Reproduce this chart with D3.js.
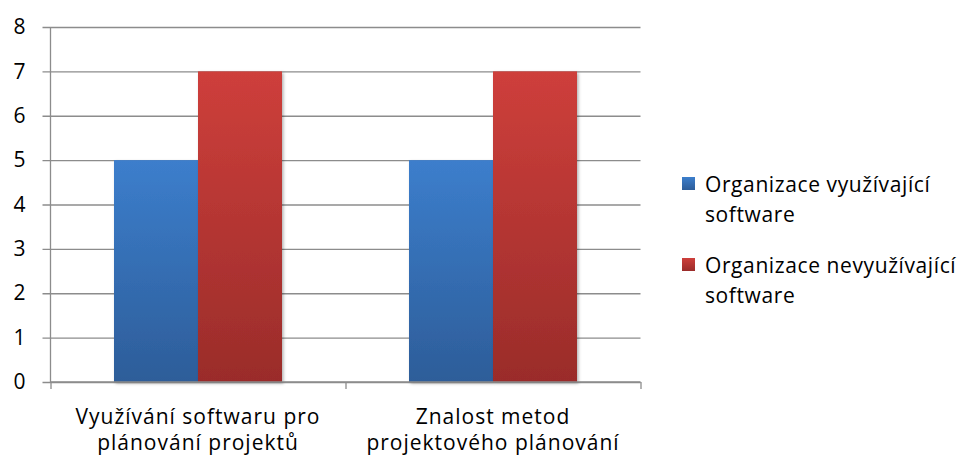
<!DOCTYPE html>
<html>
<head>
<meta charset="utf-8">
<script src="https://cdn.jsdelivr.net/npm/d3@7"></script>
<style>
  html, body { margin: 0; padding: 0; background: #fff; }
  svg { display: block; font-family: "Open Sans", "Noto Sans", sans-serif; }
</style>
</head>
<body>
<svg id="chart" width="968" height="461"></svg>
<script>
// Categories (each label split over two lines)
const categories = [
  ["Využívání softwaru pro", "plánování projektů"],
  ["Znalost metod", "projektového plánování"]
];
const seriesNames = [
  ["Organizace využívající", "software"],
  ["Organizace nevyužívající", "software"]
];
const usingSoftware = [5, 5];
const notUsingSoftware = [7, 7];
const yTicks = [0, 1, 2, 3, 4, 5, 6, 7, 8];

const seriesValues = [usingSoftware, notUsingSoftware];
const gradients = [
  { id: "gBlue", top: "#3C7ECC", bottom: "#2D5D99" },
  { id: "gRed", top: "#CE3F3B", bottom: "#9A2C2A" }
];

const svg = d3.select("#chart");
const plot = { left: 50.5, right: 640.5, top: 27, bottom: 382 };
const axisColor = "#8c8c8c";

const x = d3.scaleBand()
  .domain(d3.range(categories.length))
  .range([plot.left, plot.right])
  .paddingInner(0)
  .paddingOuter(0);

const xInner = d3.scaleBand()
  .domain(d3.range(seriesValues.length))
  .range([0, x.bandwidth()])
  .paddingInner(0)
  .paddingOuter(0.756);

const y = d3.scaleLinear().domain([0, 8]).range([plot.bottom, plot.top]);

const defs = svg.append("defs");
gradients.forEach(g => {
  const lg = defs.append("linearGradient")
    .attr("id", g.id).attr("x1", 0).attr("y1", 0).attr("x2", 0).attr("y2", 1);
  lg.append("stop").attr("offset", "0%").attr("stop-color", g.top);
  lg.append("stop").attr("offset", "100%").attr("stop-color", g.bottom);
});
const shadow = defs.append("filter").attr("id", "shadow")
  .attr("x", "-10%").attr("y", "-10%").attr("width", "130%").attr("height", "130%");
shadow.append("feDropShadow")
  .attr("dx", 1.5).attr("dy", 1.5).attr("stdDeviation", 1.5)
  .attr("flood-color", "#000").attr("flood-opacity", 0.3);

// Horizontal gridlines with outward tick marks
const yAxis = d3.axisLeft(y)
  .tickValues(yTicks)
  .tickSize(-(plot.right - plot.left))
  .tickFormat(d3.format("d"))
  .tickPadding(25);

const gy = svg.append("g")
  .attr("transform", `translate(${plot.left},0)`)
  .call(yAxis);
gy.select(".domain").remove();
gy.selectAll(".tick line")
  .attr("x1", -8)
  .attr("stroke", axisColor)
  .attr("stroke-width", 1.3);
gy.selectAll(".tick text")
  .attr("font-size", 21)
  .attr("fill", "#000")
  .attr("font-family", "Open Sans, sans-serif");

// Bars
const groups = svg.append("g").selectAll("g")
  .data(seriesValues)
  .join("g")
  .attr("fill", (d, i) => `url(#${gradients[i].id})`);

groups.each(function (vals, si) {
  d3.select(this).selectAll("rect")
    .data(vals)
    .join("rect")
    .attr("x", (v, ci) => x(ci) + xInner(si))
    .attr("width", xInner.bandwidth())
    .attr("y", v => y(v))
    .attr("height", v => y(0) - y(v))
    .attr("filter", "url(#shadow)");
});

// Left vertical axis line
svg.append("line")
  .attr("x1", plot.left).attr("x2", plot.left)
  .attr("y1", plot.top).attr("y2", plot.bottom)
  .attr("stroke", axisColor).attr("stroke-width", 1.3);

// Category axis
const xAxisScale = d3.scaleLinear()
  .domain([0, categories.length])
  .range([plot.left, plot.right]);
const gx = svg.append("g")
  .attr("transform", `translate(0,${plot.bottom})`)
  .call(d3.axisBottom(xAxisScale).tickValues(d3.range(categories.length + 1)).tickSize(7).tickFormat(""));
gx.select(".domain")
  .attr("d", `M${plot.left},0H${plot.right}`)
  .attr("stroke", axisColor).attr("stroke-width", 1.3);
gx.selectAll(".tick line").attr("stroke", axisColor).attr("stroke-width", 1.3);

// Category labels
svg.append("g").selectAll("text")
  .data(categories)
  .join("text")
  .attr("x", (d, i) => x(i) + x.bandwidth() / 2)
  .attr("y", 424)
  .attr("text-anchor", "middle")
  .attr("font-size", 21)
  .attr("letter-spacing", 1)
  .attr("fill", "#000")
  .each(function (lines) {
    d3.select(this).selectAll("tspan")
      .data(lines)
      .join("tspan")
      .attr("x", d3.select(this).attr("x"))
      .attr("dy", (l, k) => k === 0 ? 0 : 26)
      .text(l => l);
  });

// Legend
const legend = svg.append("g");
const legendY = [192, 273];
seriesNames.forEach((lines, i) => {
  const g = legend.append("g");
  g.append("rect")
    .attr("x", 682).attr("y", legendY[i] - 15)
    .attr("width", 13).attr("height", 13)
    .attr("fill", `url(#${gradients[i].id})`);
  const t = g.append("text")
    .attr("x", 705).attr("y", legendY[i])
    .attr("font-size", 21).attr("letter-spacing", 0.6).attr("fill", "#000");
  t.selectAll("tspan").data(lines).join("tspan")
    .attr("x", 705)
    .attr("dy", (l, k) => k === 0 ? 0 : 30)
    .text(l => l);
});
</script>
</body>
</html>
